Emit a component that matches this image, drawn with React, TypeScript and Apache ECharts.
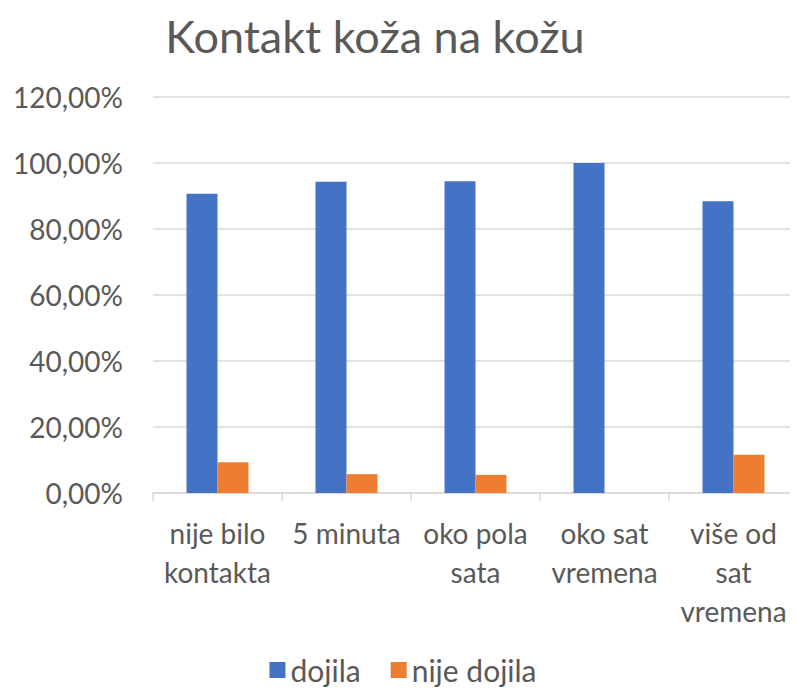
import React, { useEffect, useRef } from "react";
import * as echarts from "echarts";

const categories = ["nije bilo\nkontakta", "5 minuta", "oko pola\nsata", "oko sat\nvremena", "više od\nsat\nvremena"];
const dojila = [90.7, 94.3, 94.5, 100, 88.4];
const nijeDojila = [9.3, 5.7, 5.5, 0, 11.6];
const seriesNames = ["dojila", "nije dojila"];
const title = "Kontakt koža na kožu";

const FONT = "Lato, 'Open Sans', sans-serif";

export default function App() {
  const ref = useRef<HTMLDivElement>(null);
  useEffect(() => {
    if (!ref.current) return;
    const chart = echarts.init(ref.current, undefined, { renderer: "svg" });
    chart.setOption({
      animation: false,
      backgroundColor: "#ffffff",
      title: {
        text: title,
        left: 362,
        textAlign: "center",
        top: 5,
        padding: [0, 5, 5, 5],
        textStyle: { fontFamily: FONT, fontSize: 45, lineHeight: 46, fontWeight: "normal", color: "#595959" },
      },
      legend: {
        top: 642,
        left: "center",
        itemWidth: 16,
        itemHeight: 16,
        itemGap: 30,
        icon: "rect",
        textStyle: { fontFamily: FONT, fontSize: 30, color: "#595959" },
        data: seriesNames,
      },
      grid: { left: 145, top: 89, width: 650, height: 396, containLabel: false },
      xAxis: {
        type: "category",
        data: categories,
        axisLine: { lineStyle: { color: "#d9d9d9", width: 1.5 } },
        axisTick: { show: true, length: 8, lineStyle: { color: "#d9d9d9", width: 1.5 } },
        axisLabel: {
          interval: 0,
          margin: 20,
          fontFamily: FONT,
          fontSize: 28,
          lineHeight: 39,
          color: "#595959",
        },
      },
      yAxis: {
        type: "value",
        min: 0,
        max: 120,
        interval: 20,
        axisLine: { show: false },
        axisTick: { show: false },
        splitLine: { lineStyle: { color: "#d9d9d9", width: 1.5 } },
        axisLabel: {
          margin: 30,
          fontFamily: FONT,
          fontSize: 28,
          color: "#595959",
          formatter: (v: number) => v.toFixed(2).replace(".", ",") + "%",
        },
      },
      series: [
        {
          name: seriesNames[0],
          type: "bar",
          data: dojila,
          barWidth: 31,
          barGap: "0%",
          itemStyle: { color: "#4472c4" },
        },
        {
          name: seriesNames[1],
          type: "bar",
          data: nijeDojila,
          barWidth: 31,
          barGap: "0%",
          itemStyle: { color: "#ed7d31" },
        },
      ],
    });
    return () => chart.dispose();
  }, []);
  return <div ref={ref} style={{ width: 790, height: 680 }} />;
}
